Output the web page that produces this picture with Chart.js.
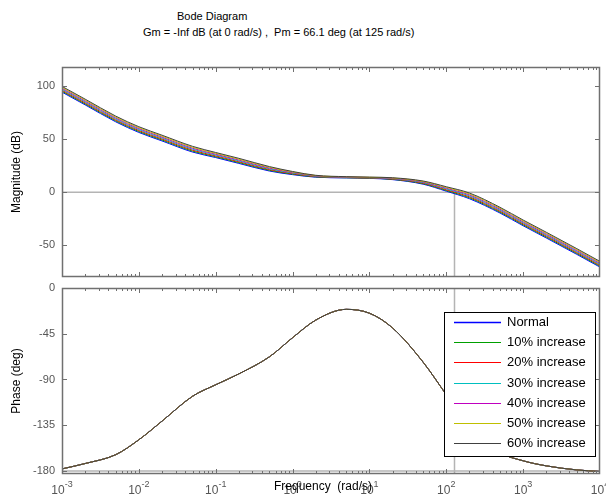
<!DOCTYPE html>
<html>
<head>
<meta charset="utf-8">
<script src="https://cdn.jsdelivr.net/npm/chart.js@4.4.1/dist/chart.umd.min.js"></script>
<style>
  body { margin: 0; background: #fff; font-family: "Liberation Sans", Arial, sans-serif; }
  #wrap { position: relative; width: 606px; height: 498px; overflow: hidden; }
  .t { position: absolute; white-space: pre; font-size: 11px; line-height: 13px; color: #000; }
  canvas { position: absolute; left: 0; }
</style>
</head>
<body>
<div id="wrap">
  <div class="t" style="left:177px;top:10px">Bode Diagram</div>
  <div class="t" style="left:143px;top:26px">Gm = -Inf dB (at 0 rad/s) ,  Pm = 66.1 deg (at 125 rad/s)</div>
  <canvas id="mag" width="606" height="282" style="top:0"></canvas>
  <canvas id="phase" width="606" height="216" style="top:282px"></canvas>
</div>
<script>
// frequenze (rad/s)
var freqs = [0.001, 0.002, 0.005, 0.01, 0.02, 0.05, 0.1, 0.2, 0.5, 1, 2, 5, 10, 20, 50, 100, 200, 500, 1000, 2000, 5000, 10000];

var seriesNames = ['Normal', '10% increase', '20% increase', '30% increase', '40% increase', '50% increase', '60% increase'];
var seriesColors = ['#0000ff', '#00a000', '#ff0000', '#00bfbf', '#bf00bf', '#bfbf00', '#404040'];

// modulo (dB)
var magNormal = [94.3, 82.3, 66.3, 56.3, 48.3, 37.8, 32.6, 27.1, 19.9, 16.5, 14.1, 13.4, 13.0, 11.8, 7.5, 0.9, -6.2, -19.7, -31.7, -43.2, -58.7, -70.7];
var mag10 = [95.2, 83.2, 67.2, 57.2, 49.2, 38.7, 33.4, 27.9, 20.6, 17.0, 14.4, 13.6, 13.2, 12.1, 8.0, 1.6, -5.3, -18.8, -30.8, -42.3, -57.8, -69.8];
var mag20 = [96.1, 84.1, 68.1, 58.1, 50.1, 39.6, 34.2, 28.7, 21.3, 17.5, 14.7, 13.8, 13.4, 12.4, 8.5, 2.3, -4.4, -17.9, -29.9, -41.4, -56.9, -68.9];
var mag30 = [97.0, 85.0, 69.0, 59.0, 51.0, 40.5, 35.0, 29.5, 22.0, 18.0, 15.0, 14.0, 13.6, 12.7, 9.0, 3.0, -3.5, -17.0, -29.0, -40.5, -56.0, -68.0];
var mag40 = [97.9, 85.9, 69.9, 59.9, 51.9, 41.4, 35.8, 30.3, 22.7, 18.5, 15.3, 14.2, 13.8, 13.0, 9.5, 3.7, -2.6, -16.1, -28.1, -39.6, -55.1, -67.1];
var mag50 = [98.8, 86.8, 70.8, 60.8, 52.8, 42.3, 36.6, 31.1, 23.4, 19.0, 15.6, 14.4, 14.0, 13.3, 10.0, 4.4, -1.7, -15.2, -27.2, -38.7, -54.2, -66.2];
var mag60 = [99.7, 87.7, 71.7, 61.7, 53.7, 43.2, 37.4, 31.9, 24.1, 19.5, 15.9, 14.6, 14.2, 13.6, 10.5, 5.1, -0.8, -14.3, -26.3, -37.8, -53.3, -65.3];

// fase (deg): le curve coincidono
var phaseAll = [-178, -172.7, -164, -149.3, -131, -106.5, -95.2, -84.5, -67.7, -48.9, -31.6, -21, -24.8, -39.3, -73, -105, -137, -162, -170, -175, -179, -180.5];

// assi
var freqDecades = [-3, -2, -1, 0, 1, 2, 3, 4];
var magTicks = [-50, 0, 50, 100];
var phaseTicks = [-180, -135, -90, -45, 0];
var crossFreq = 125;

var FONT = '"Liberation Sans", Arial, sans-serif';

function makeDatasets(valuesList) {
  return seriesNames.map(function (name, i) {
    return {
      label: name,
      data: freqs.map(function (f, j) { return { x: f, y: valuesList[i][j] }; }),
      borderColor: seriesColors[i],
      borderWidth: 1,
      pointRadius: 0,
      fill: false,
      cubicInterpolationMode: 'monotone',
      order: seriesNames.length - i // l'ultima serie sopra, come in MATLAB
    };
  });
}

// linee di riferimento (0 dB / -180 deg, frequenza di crossover)
function refLinesPlugin(kind) {
  return {
    id: 'refLines',
    beforeDatasetsDraw: function (chart) {
      var ctx = chart.ctx, a = chart.chartArea, xs = chart.scales.x, ys = chart.scales.y;
      var cx = Math.round(xs.getPixelForValue(crossFreq)) + 0.5;
      ctx.save();
      ctx.strokeStyle = '#b4b4b4';
      ctx.lineWidth = 1.5;
      ctx.beginPath();
      if (kind === 'mag') {
        var y0 = ys.getPixelForValue(0);
        ctx.moveTo(a.left, y0); ctx.lineTo(a.right, y0);
        ctx.moveTo(cx, y0); ctx.lineTo(cx, a.bottom);
      } else {
        var y180 = ys.getPixelForValue(-180);
        ctx.moveTo(a.left, y180); ctx.lineTo(a.right, y180);
        ctx.moveTo(cx, a.top); ctx.lineTo(cx, a.bottom);
      }
      ctx.stroke();
      ctx.restore();
    }
  };
}

// cornice, tacche e etichette stile MATLAB
function framePlugin(yTicks, yTitle, showX) {
  return {
    id: 'frame',
    afterDraw: function (chart) {
      var ctx = chart.ctx, a = chart.chartArea, xs = chart.scales.x, ys = chart.scales.y;
      ctx.save();
      ctx.strokeStyle = '#707070';
      ctx.lineWidth = 1;
      ctx.beginPath();
      for (var d = 0; d < freqDecades.length - 1; d++) {
        for (var m = 1; m < 10; m++) {
          var px = Math.round(xs.getPixelForValue(m * Math.pow(10, freqDecades[d]))) + 0.5;
          var len = (m === 1) ? 5 : 3;
          ctx.moveTo(px, a.top); ctx.lineTo(px, a.top + len);
          ctx.moveTo(px, a.bottom); ctx.lineTo(px, a.bottom - len);
        }
      }
      yTicks.forEach(function (v) {
        var py = Math.round(ys.getPixelForValue(v)) + 0.5;
        ctx.moveTo(a.left, py); ctx.lineTo(a.left + 5, py);
        ctx.moveTo(a.right, py); ctx.lineTo(a.right - 5, py);
      });
      ctx.stroke();

      ctx.lineWidth = 1.5;
      ctx.strokeRect(a.left + 0.5, a.top + 0.5, a.right - a.left - 1, a.bottom - a.top - 1);

      // etichette asse y
      ctx.fillStyle = '#555';
      ctx.font = '11px ' + FONT;
      ctx.textAlign = 'right';
      ctx.textBaseline = 'middle';
      yTicks.forEach(function (v) {
        ctx.fillText(String(v), a.left - 7, ys.getPixelForValue(v));
      });

      // titolo asse y
      ctx.fillStyle = '#000';
      ctx.font = '12px ' + FONT;
      ctx.save();
      ctx.translate(17, (a.top + a.bottom) / 2);
      ctx.rotate(-Math.PI / 2);
      ctx.textAlign = 'center';
      ctx.fillText(yTitle, 0, 0);
      ctx.restore();

      if (showX) {
        ctx.textBaseline = 'alphabetic';
        ctx.textAlign = 'left';
        ctx.fillStyle = '#555';
        freqDecades.forEach(function (e) {
          var px = xs.getPixelForValue(Math.pow(10, e));
          ctx.font = '12px ' + FONT;
          var wb = ctx.measureText('10').width;
          ctx.font = '9px ' + FONT;
          var we = ctx.measureText(String(e)).width;
          var x0 = px - (wb + we) / 2;
          ctx.font = '12px ' + FONT;
          ctx.fillText('10', x0, a.bottom + 20);
          ctx.font = '9px ' + FONT;
          ctx.fillText(String(e), x0 + wb, a.bottom + 13);
        });
        ctx.fillStyle = '#000';
        ctx.font = '12px ' + FONT;
        ctx.textAlign = 'center';
        ctx.textBaseline = 'middle';
        ctx.fillText('Frequency  (rad/s)', 323, a.bottom + 13);
      }
      ctx.restore();
    }
  };
}

// legenda dentro il grafico della fase
var legendBoxPlugin = {
  id: 'legendBox',
  afterDraw: function (chart) {
    var ctx = chart.ctx, a = chart.chartArea;
    var w = 151, h = 144;
    var x = a.right - 5 - w, y = a.top + 24;
    ctx.save();
    ctx.fillStyle = '#fff';
    ctx.fillRect(x, y, w, h);
    ctx.strokeStyle = '#000';
    ctx.lineWidth = 1;
    ctx.strokeRect(x + 0.5, y + 0.5, w, h);
    ctx.font = '13px ' + FONT;
    ctx.textBaseline = 'middle';
    ctx.textAlign = 'left';
    chart.data.datasets.forEach(function (ds, i) {
      var ry = Math.round(y + 10 + i * 20.2) + 0.5;
      ctx.strokeStyle = ds.borderColor;
      ctx.lineWidth = i === 0 ? 1.5 : 1;
      ctx.beginPath();
      ctx.moveTo(x + 10, ry); ctx.lineTo(x + 57, ry);
      ctx.stroke();
      ctx.fillStyle = '#000';
      ctx.fillText(ds.label, x + 63, ry);
    });
    ctx.restore();
  }
};

function baseOptions(yMin, yMax, pad) {
  return {
    responsive: false,
    animation: false,
    events: [],
    layout: { padding: pad },
    plugins: { legend: { display: false }, tooltip: { enabled: false }, title: { display: false } },
    scales: {
      x: { type: 'logarithmic', min: 0.001, max: 10000, display: false },
      y: { type: 'linear', min: yMin, max: yMax, display: false }
    }
  };
}

new Chart(document.getElementById('mag'), {
  type: 'line',
  data: { datasets: makeDatasets([magNormal, mag10, mag20, mag30, mag40, mag50, mag60]) },
  options: baseOptions(-80, 118, { left: 62, right: 6, top: 67, bottom: 5 }),
  plugins: [refLinesPlugin('mag'), framePlugin(magTicks, 'Magnitude (dB)', false)]
});

new Chart(document.getElementById('phase'), {
  type: 'line',
  data: { datasets: makeDatasets([phaseAll, phaseAll, phaseAll, phaseAll, phaseAll, phaseAll, phaseAll]) },
  options: baseOptions(-183, 0, { left: 62, right: 6, top: 6, bottom: 24 }),
  plugins: [refLinesPlugin('phase'), framePlugin(phaseTicks, 'Phase (deg)', true), legendBoxPlugin]
});
</script>
</body>
</html>
